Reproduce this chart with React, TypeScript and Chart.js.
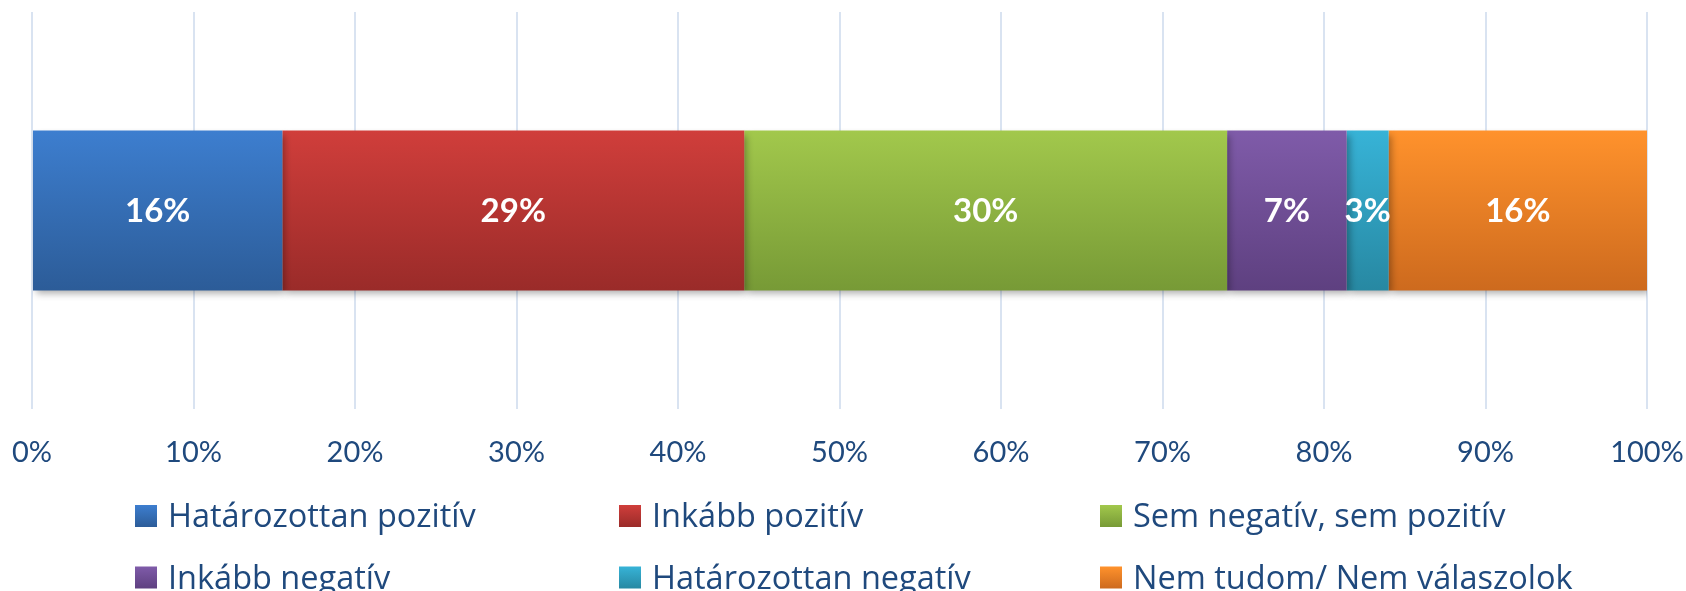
import React, { useEffect, useRef } from 'react';
import { Chart, registerables } from 'chart.js';

Chart.register(...registerables);

const categories = [''];
const seriesNames = [
  'Határozottan pozitív',
  'Inkább pozitív',
  'Sem negatív, sem pozitív',
  'Inkább negatív',
  'Határozottan negatív',
  'Nem tudom/ Nem válaszolok',
];
const seriesValues = [15.5, 28.6, 29.9, 7.4, 2.6, 16.0];
const valueLabels = ['16%', '29%', '30%', '7%', '3%', '16%'];
const colorsTop = ['#3d7ecf', '#d03e3b', '#a2c84c', '#7f5ba9', '#37b3d7', '#ff922c'];
const colorsBottom = ['#2c5c98', '#9a2b29', '#779a36', '#5e4080', '#2788a2', '#cd6a1e'];

const BAR_FRACTION = 0.403;
const TEXT_COLOR = '#1F497D';
const FONT = 'Lato, "Open Sans", sans-serif';
const LEGEND_FONT = '"Open Sans", Lato, sans-serif';

function barGradient(chart: any, i: number) {
  const area = chart.chartArea;
  if (!area) return colorsTop[i];
  const mid = (area.top + area.bottom) / 2;
  const half = ((area.bottom - area.top) * BAR_FRACTION) / 2;
  const g = chart.ctx.createLinearGradient(0, mid - half, 0, mid + half);
  g.addColorStop(0, colorsTop[i]);
  g.addColorStop(1, colorsBottom[i]);
  return g;
}

const decorPlugin = {
  id: 'decor',
  beforeDatasetsDraw(chart: any) {
    const c = chart.ctx;
    c.save();
    c.shadowColor = 'rgba(0,0,0,0.32)';
    c.shadowBlur = 7;
    c.shadowOffsetX = 3;
    c.shadowOffsetY = 4;
  },
  afterDatasetsDraw(chart: any) {
    const c = chart.ctx;
    c.restore();
    c.save();
    c.fillStyle = '#ffffff';
    c.font = `bold 33px ${FONT}`;
    c.textAlign = 'center';
    c.textBaseline = 'middle';
    chart.data.datasets.forEach((ds: any, i: number) => {
      const meta = chart.getDatasetMeta(i);
      meta.data.forEach((el: any) => {
        const x = (el.x + el.base) / 2;
        c.fillText(valueLabels[i], x, el.y + 1);
      });
    });
    c.restore();
  },
  afterDraw(chart: any) {
    const c = chart.ctx;
    c.save();
    const colX = [135, 619, 1100];
    const rowY = [516, 577.5];
    const box = 22;
    c.font = `32.5px ${LEGEND_FONT}`;
    c.textAlign = 'left';
    c.textBaseline = 'alphabetic';
    chart.data.datasets.forEach((ds: any, i: number) => {
      const x = colX[i % 3];
      const y = rowY[Math.floor(i / 3)];
      const g = c.createLinearGradient(0, y - box / 2, 0, y + box / 2);
      g.addColorStop(0, colorsTop[i]);
      g.addColorStop(1, colorsBottom[i]);
      c.fillStyle = g;
      c.fillRect(x, y - box / 2, box, box);
      c.fillStyle = TEXT_COLOR;
      c.fillText(ds.label, x + box + 11, y + 11);
    });
    c.restore();
  },
};

export default function App() {
  const ref = useRef<HTMLCanvasElement>(null);
  useEffect(() => {
    document.body.style.margin = '0';
    const canvas = ref.current!;
    const chart = new Chart(canvas, {
      type: 'bar',
      data: {
        labels: categories,
        datasets: seriesNames.map((name, i) => ({
          label: name,
          data: [seriesValues[i]],
          backgroundColor: (ctx: any) => barGradient(ctx.chart, i),
          borderWidth: 0,
          categoryPercentage: 1,
          barPercentage: BAR_FRACTION,
        })),
      },
      options: {
        indexAxis: 'y',
        responsive: false,
        animation: false,
        layout: { padding: { left: 32, right: 39, top: 12, bottom: 112 } },
        plugins: {
          legend: { display: false },
          tooltip: { enabled: false },
        },
        scales: {
          x: {
            stacked: true,
            min: 0,
            max: 100,
            border: { display: false },
            grid: { color: '#d9e3f1', lineWidth: 2, drawTicks: false },
            ticks: {
              stepSize: 10,
              padding: 26,
              color: TEXT_COLOR,
              font: { family: FONT, size: 29 },
              maxRotation: 0,
              autoSkip: false,
              callback: (v: any) => v + '%',
            },
            afterFit: (scale: any) => {
              scale.height = 70;
              scale.paddingLeft = 0;
              scale.paddingRight = 0;
            },
          },
          y: {
            stacked: true,
            display: false,
          },
        },
      },
      plugins: [decorPlugin],
    });
    return () => chart.destroy();
  }, []);
  return <canvas ref={ref} width={1686} height={591} style={{ display: 'block' }} />;
}
